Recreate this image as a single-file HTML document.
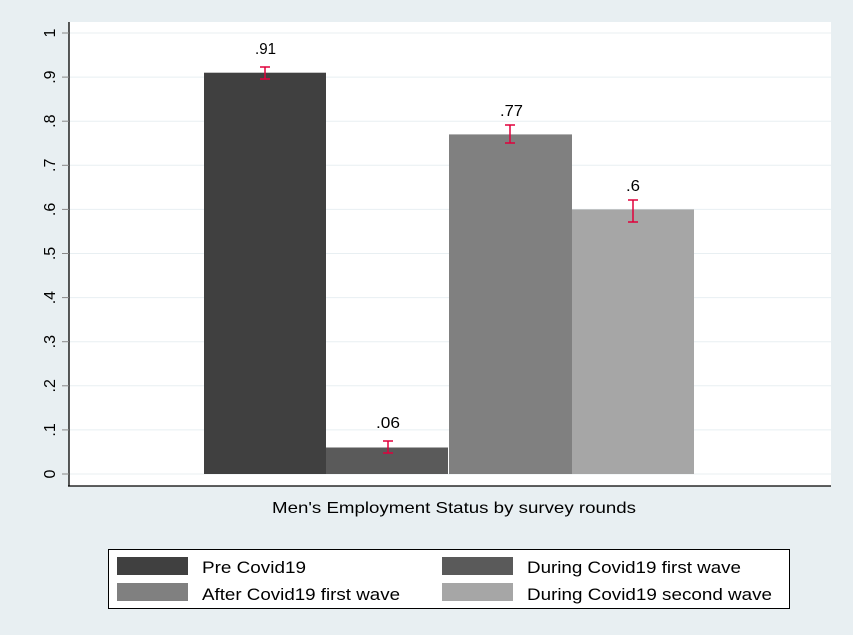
<!DOCTYPE html>
<html><head><style>body{margin:0;background:#e8eff2}svg{display:block}</style></head><body>
<svg width="853" height="635" xmlns="http://www.w3.org/2000/svg" font-family="Liberation Sans, sans-serif">
<rect width="853" height="635" fill="#e8eff2"/>
<rect x="69" y="22" width="762" height="464" fill="#fff"/>
<g stroke="#e8eff2" stroke-width="1">
<line x1="69" x2="831" y1="474" y2="474"/><line x1="69" x2="831" y1="429.9" y2="429.9"/>
<line x1="69" x2="831" y1="385.8" y2="385.8"/><line x1="69" x2="831" y1="341.7" y2="341.7"/>
<line x1="69" x2="831" y1="297.6" y2="297.6"/><line x1="69" x2="831" y1="253.5" y2="253.5"/>
<line x1="69" x2="831" y1="209.4" y2="209.4"/><line x1="69" x2="831" y1="165.3" y2="165.3"/>
<line x1="69" x2="831" y1="121.2" y2="121.2"/><line x1="69" x2="831" y1="77.1" y2="77.1"/>
<line x1="69" x2="831" y1="33" y2="33"/>
</g>
<rect x="204" y="72.7" width="122" height="401.3" fill="#404040"/>
<rect x="326" y="447.5" width="122" height="26.5" fill="#5a5a5a"/>
<rect x="449" y="134.4" width="123" height="339.6" fill="#808080"/>
<rect x="572" y="209.4" width="122" height="264.6" fill="#a6a6a6"/>
<g stroke="#e0003c" stroke-width="1.5" fill="none">
<path d="M260 67H270M265 67V79M260 79H270"/>
<path d="M383 441H393M388 441V453M383 453H393"/>
<path d="M505 125H515M510 125V143M505 143H515"/>
<path d="M628 200H638M633 200V222M628 222H638"/>
</g>
<g font-size="16" fill="#000" lengthAdjust="spacingAndGlyphs">
<text x="255" y="54" textLength="21" lengthAdjust="spacingAndGlyphs">.91</text><text x="376" y="428" textLength="24" lengthAdjust="spacingAndGlyphs">.06</text>
<text x="500" y="116" textLength="23" lengthAdjust="spacingAndGlyphs">.77</text><text x="626" y="191" textLength="14" lengthAdjust="spacingAndGlyphs">.6</text>
<text x="272" y="513" textLength="364" lengthAdjust="spacingAndGlyphs">Men's Employment Status by survey rounds</text>
</g>
<g stroke="#000" stroke-width="1.3">
<line x1="69" y1="22" x2="69" y2="486"/><line x1="68" y1="486" x2="831" y2="486"/>
</g>
<g stroke="#888" stroke-width="1">
<line x1="62" x2="69" y1="474" y2="474"/><line x1="62" x2="69" y1="429.9" y2="429.9"/>
<line x1="62" x2="69" y1="385.8" y2="385.8"/><line x1="62" x2="69" y1="341.7" y2="341.7"/>
<line x1="62" x2="69" y1="297.6" y2="297.6"/><line x1="62" x2="69" y1="253.5" y2="253.5"/>
<line x1="62" x2="69" y1="209.4" y2="209.4"/><line x1="62" x2="69" y1="165.3" y2="165.3"/>
<line x1="62" x2="69" y1="121.2" y2="121.2"/><line x1="62" x2="69" y1="77.1" y2="77.1"/>
<line x1="62" x2="69" y1="33" y2="33"/>
</g>
<g font-size="16" text-anchor="middle" fill="#000">
<text transform="translate(55,474) rotate(-90)">0</text>
<text transform="translate(55,429.9) rotate(-90)">.1</text>
<text transform="translate(55,385.8) rotate(-90)">.2</text>
<text transform="translate(55,341.7) rotate(-90)">.3</text>
<text transform="translate(55,297.6) rotate(-90)">.4</text>
<text transform="translate(55,253.5) rotate(-90)">.5</text>
<text transform="translate(55,209.4) rotate(-90)">.6</text>
<text transform="translate(55,165.3) rotate(-90)">.7</text>
<text transform="translate(55,121.2) rotate(-90)">.8</text>
<text transform="translate(55,77.1) rotate(-90)">.9</text>
<text transform="translate(55,33) rotate(-90)">1</text>
</g>
<rect x="108.5" y="549.5" width="681" height="59" fill="#fff" stroke="#000"/>
<rect x="117" y="557" width="71" height="18" fill="#404040"/>
<rect x="117" y="583" width="71" height="18" fill="#808080"/>
<rect x="442" y="557" width="71" height="18" fill="#5a5a5a"/>
<rect x="442" y="583" width="71" height="18" fill="#a6a6a6"/>
<g font-size="17" fill="#000">
<text x="202" y="573" textLength="104" lengthAdjust="spacingAndGlyphs">Pre Covid19</text>
<text x="202" y="600" textLength="198" lengthAdjust="spacingAndGlyphs">After Covid19 first wave</text>
<text x="527" y="573" textLength="214" lengthAdjust="spacingAndGlyphs">During Covid19 first wave</text>
<text x="527" y="600" textLength="245" lengthAdjust="spacingAndGlyphs">During Covid19 second wave</text>
</g>
</svg>
</body></html>
